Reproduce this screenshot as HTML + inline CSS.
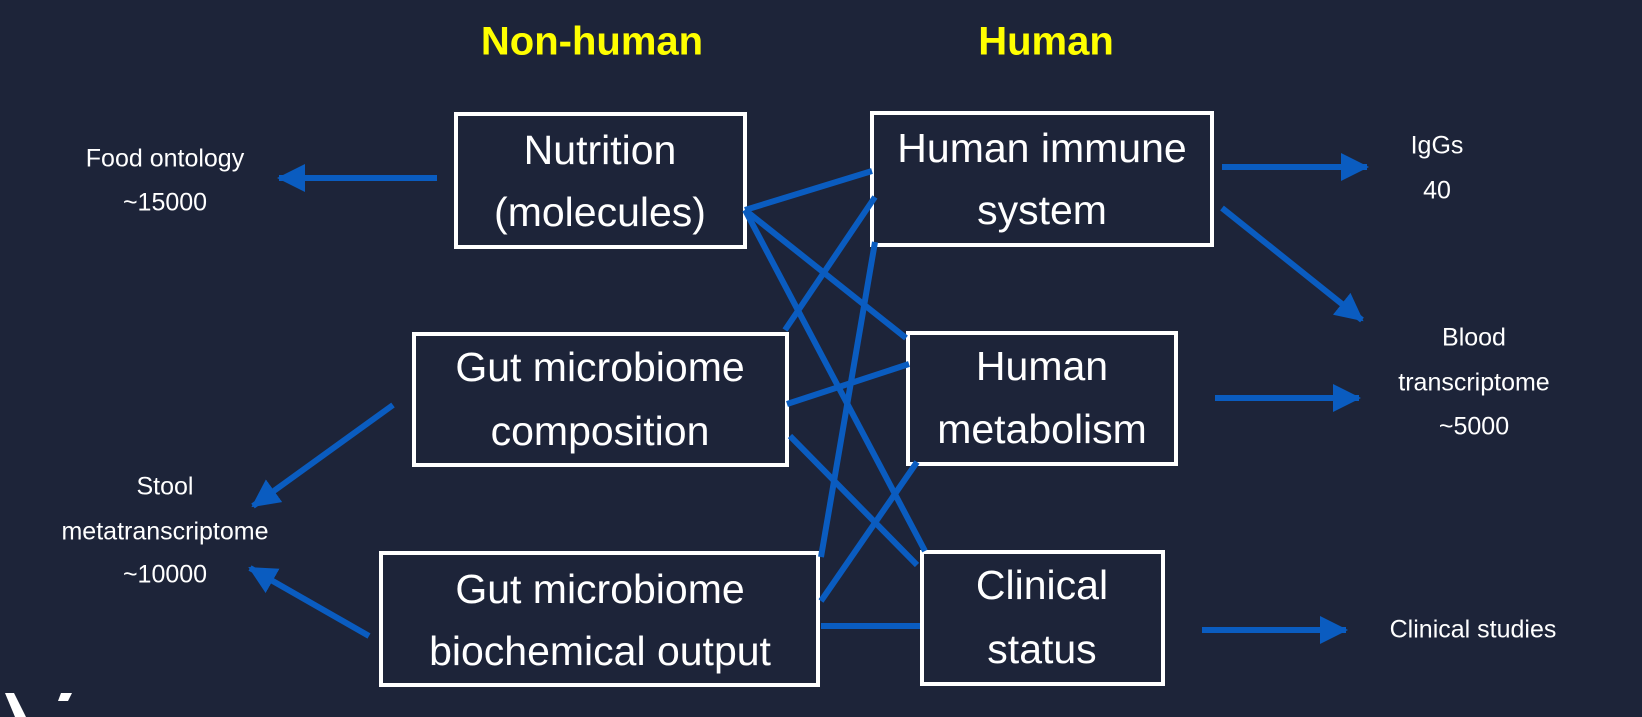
<!DOCTYPE html>
<html><head><meta charset="utf-8"><style>
html,body{margin:0;padding:0;background:#1d2439;}
svg{display:block}
text{font-family:"Liberation Sans",sans-serif;fill:#fff;text-anchor:middle;dominant-baseline:middle}
</style></head><body>
<svg width="1642" height="717" viewBox="0 0 1642 717" xmlns="http://www.w3.org/2000/svg">
<rect width="1642" height="717" fill="#1d2439"/>
<defs>
<marker id="ah" markerWidth="28" markerHeight="28" refX="26" refY="14" orient="auto" markerUnits="userSpaceOnUse">
<path d="M0,0 L28,14 L0,28 Z" fill="#0a5cc0"/>
</marker>
</defs>
<text x="592" y="44" style="font-weight:bold;font-size:40px;fill:#ffff00">Non-human</text>
<text x="1046" y="44" style="font-weight:bold;font-size:40px;fill:#ffff00">Human</text>

<g fill="none" stroke="#fff" stroke-width="4">
<rect x="456" y="114" width="289" height="133"/>
<rect x="414" y="334" width="373" height="131"/>
<rect x="381" y="553" width="437" height="132"/>
<rect x="872" y="113" width="340" height="132"/>
<rect x="908" y="333" width="268" height="131"/>
<rect x="922" y="552" width="241" height="132"/>
</g>

<g style="font-size:41px">
<text x="600" y="153">Nutrition</text>
<text x="600" y="215">(molecules)</text>
<text x="600" y="370">Gut microbiome</text>
<text x="600" y="434">composition</text>
<text x="600" y="592">Gut microbiome</text>
<text x="600" y="654">biochemical output</text>
<text x="1042" y="151">Human immune</text>
<text x="1042" y="213">system</text>
<text x="1042" y="369">Human</text>
<text x="1042" y="432">metabolism</text>
<text x="1042" y="588">Clinical</text>
<text x="1042" y="652">status</text>
</g>

<g style="font-size:25px">
<text x="165" y="160">Food ontology</text>
<text x="165" y="204">~15000</text>
<text x="165" y="488">Stool</text>
<text x="165" y="533">metatranscriptome</text>
<text x="165" y="576">~10000</text>
<text x="1437" y="147">IgGs</text>
<text x="1437" y="192">40</text>
<text x="1474" y="339">Blood</text>
<text x="1474" y="384">transcriptome</text>
<text x="1474" y="428">~5000</text>
<text x="1473" y="631">Clinical studies</text>
</g>

<g stroke="#0a5cc0" stroke-width="6" fill="none">
<line x1="437" y1="178" x2="279" y2="178" marker-end="url(#ah)"/>
<line x1="393" y1="405" x2="253" y2="506" marker-end="url(#ah)"/>
<line x1="369" y1="636" x2="250" y2="568" marker-end="url(#ah)"/>
<line x1="1222" y1="167" x2="1367" y2="167" marker-end="url(#ah)"/>
<line x1="1222" y1="208" x2="1362" y2="320" marker-end="url(#ah)"/>
<line x1="1215" y1="398" x2="1359" y2="398" marker-end="url(#ah)"/>
<line x1="1202" y1="630" x2="1346" y2="630" marker-end="url(#ah)"/>

<line x1="745" y1="210" x2="872" y2="171"/>
<line x1="745" y1="210" x2="906" y2="338"/>
<line x1="745" y1="210" x2="925" y2="551"/>
<line x1="785" y1="330" x2="875" y2="197"/>
<line x1="787" y1="404" x2="909" y2="364"/>
<line x1="790" y1="436" x2="917" y2="565"/>
<line x1="821" y1="557" x2="875" y2="242"/>
<line x1="821" y1="601" x2="917" y2="462"/>
<line x1="821" y1="626" x2="920" y2="626"/>
</g>

<polygon points="5,693 14,693 26,717 15,717" fill="#fff"/>
<polygon points="61,693 72,693 68,701 58,701" fill="#fff"/>
</svg>
</body></html>
